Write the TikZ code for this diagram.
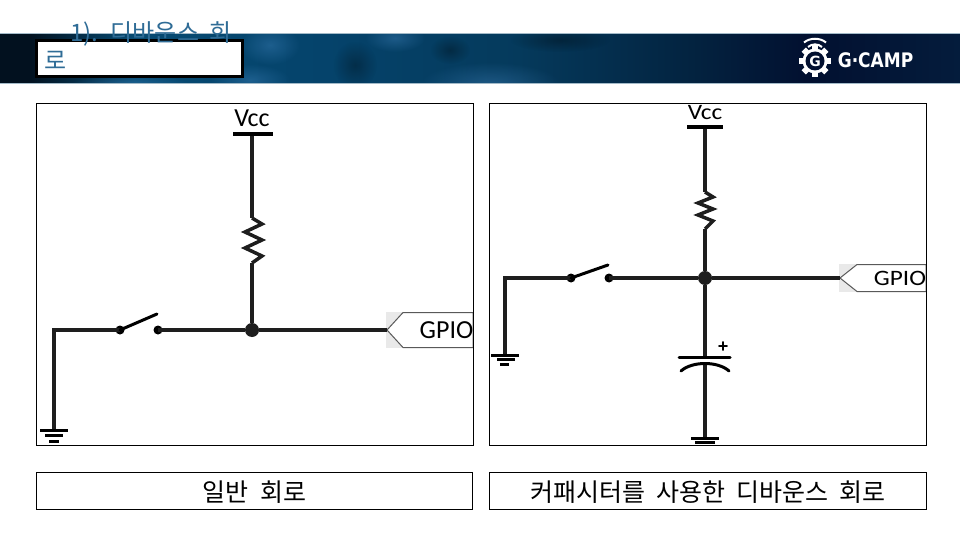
\documentclass[tikz,border=0pt]{standalone}
\usepackage{fontspec}
\newfontfamily\kofont[WordSpace=2.0]{Noto Sans CJK KR}
\newfontfamily\partfont{Carlito}
\newfontfamily\logofont{DejaVu Sans}
\setmainfont{Liberation Sans}
\usetikzlibrary{calc,fadings}
\tikzfading[name=glowfade,inner color=transparent!0,outer color=transparent!100]
\definecolor{wirecol}{HTML}{1E1E1E}
\definecolor{titlecol}{HTML}{2F6C96}
\definecolor{tagcol}{HTML}{E9E9E9}
\definecolor{edgecol}{HTML}{A3BAC8}
\definecolor{band0}{HTML}{02111F}
\definecolor{band1}{HTML}{042C46}
\definecolor{band2}{HTML}{064A72}
\definecolor{band3}{HTML}{05436B}
\definecolor{band4}{HTML}{053A5C}
\definecolor{band5}{HTML}{032340}
\definecolor{band6}{HTML}{021030}
\definecolor{band7}{HTML}{041C3C}
% stops: 25bp is the left edge of the band, 75bp the right edge
\pgfdeclarehorizontalshading{bandshade}{50bp}{
  color(0bp)=(band0); color(26.5bp)=(band0); color(29bp)=(band1); color(32bp)=(band2);
  color(42bp)=(band3); color(52bp)=(band4); color(61bp)=(band5); color(67bp)=(band6);
  color(75bp)=(band7); color(100bp)=(band7)}
\tikzset{
  wire/.style={draw=wirecol,line width=3.5pt},
  symbar/.style={draw=black,line width=3pt},
  jointdot/.style={circle,fill=wirecol,inner sep=0pt,minimum size=14pt},
  contact/.style={circle,fill=black,inner sep=0pt,minimum size=9pt},
  frame/.style={draw=black,line width=1.2pt},
  tagbg/.style={fill=tagcol},
  tagshape/.style={draw=black!65,fill=white,line width=1pt},
  caption/.style={inner sep=0pt,font=\kofont\fontsize{25}{28}\selectfont},
  titletext/.style={inner sep=0pt,anchor=west,text=titlecol,font=\kofont\fontsize{24}{26}\selectfont},
  parttext/.style={inner sep=0pt,font=\partfont\fontsize{26}{30}\selectfont},
  smallpart/.style={inner sep=0pt,xscale=1.15,font=\partfont\fontsize{22}{24}\selectfont},
  bandglow/.style={fill=#1,path fading=glowfade},
}
\begin{document}
\begin{tikzpicture}[x=1pt,y=-1pt]
\useasboundingbox (0,0) rectangle (960,540);
\fill[white] (0,0) rectangle (960,540);

% Header band
\begin{scope}
\clip (0,34) rectangle (960,84);
\shade[shading=bandshade] (0,34) rectangle (960,84);
\foreach \gx/\gy/\grx/\gry in {395/38/30/14,250/80/40/16,270/45/30/20,490/84/70/22,130/84/60/10} {
  \fill[bandglow=cyan!60!blue!70!white,opacity=.3] (\gx,\gy) ellipse ({\grx} and {\gry});
}
\foreach \gx/\gy/\grx/\gry in {355/65/22/24,450/50/20/14,560/40/50/12} {
  \fill[bandglow=black,opacity=.3] (\gx,\gy) ellipse ({\grx} and {\gry});
}
\end{scope}
\draw[edgecol,line width=1pt] (0,33.5) -- (960,33.5);
\draw[edgecol,line width=1pt] (0,84) -- (960,84);

% Title box
\draw[black,fill=white,line width=3pt] (36.5,40.5) rectangle (242.5,76.5);
\node[titletext] (title1) at (70,33.5) {1). 디바운스 회};
\node[titletext] (title2) at (44,60) {로};

% Logo
\coordinate (gearc) at (815,61);
\foreach \a in {0,45,...,315} {
  \fill[white,rotate around={\a:(gearc)}] ($(gearc)+(-3,-16)$) rectangle ($(gearc)+(3,-10)$);
}
\fill[white] (gearc) circle (12.5pt);
\fill[band6] (gearc) circle (9.5pt);
\node[inner sep=0pt,text=white,font=\logofont\fontsize{14}{16}\selectfont\bfseries] (loggear) at (gearc) {G};
\draw[white,line width=2pt] (804,42.5) .. controls (810,37.5) and (820,37.5) .. (826,42.5);
\draw[white,line width=2pt] (808,47) .. controls (812,43.5) and (818,43.5) .. (822,47);
\node[inner sep=0pt,text=white,font=\logofont\fontsize{20}{24}\selectfont\bfseries,xscale=.85] (logo) at (875.5,60) {G·CAMP};

% Left circuit
\coordinate (lvcc) at (252,134);
\coordinate (lrtop) at (252,218);
\coordinate (lrbot) at (252,263);
\coordinate (lgnd) at (54,430);
\coordinate (lcorner) at (54,330);
\node[jointdot] (ljoint) at (252,330) {};
\node[contact] (lsw1) at (120,330) {};
\node[contact] (lsw2) at (158,330) {};
\coordinate (lswend) at (157,314);
\coordinate (ltagtip) at (387,330);

\fill[tagbg] (386,312) rectangle (403,348);
\draw[tagshape] (ltagtip) -- (403,312.5) -- (473,312.5) -- (473,347.5) -- (403,347.5) -- cycle;
\node[parttext] (lgpio) at (446.5,330.5) {GPIO};
\node[parttext] (lvcctext) at (252,118) {Vcc};

\draw[wire] (lvcc) -- (lrtop);
\draw[wire,line join=miter] (lrtop) -- (262,224) -- (245,232) -- (262,240) -- (245,248) -- (262,256) -- (lrbot);
\draw[wire] (lrbot) -- (ljoint);
\draw[wire] (lsw2.center) -- (ljoint);
\draw[wire] (ljoint) -- (ltagtip);
\draw[wire] (lsw1.center) -- (lcorner) -- (lgnd);
\draw[symbar,line cap=round] (lsw1.center) -- (lswend);
\draw[symbar,line width=4pt] (233,134) -- (273,134);
\draw[symbar] (40,430) -- (68,430);
\draw[symbar] (45,435.5) -- (63,435.5);
\draw[symbar] (49,441) -- (59,441);

% Right circuit
\coordinate (rvcc) at (705,127);
\coordinate (rrtop) at (705,192);
\coordinate (rrbot) at (705,229);
\coordinate (rgnd) at (505,355);
\coordinate (rcorner) at (505,278);
\node[jointdot] (rjoint) at (705,278) {};
\node[contact] (rsw1) at (571,278) {};
\node[contact] (rsw2) at (609,278) {};
\coordinate (rswend) at (608,265);
\coordinate (rtagtip) at (840,278);
\coordinate (rcaptop) at (705,357);
\coordinate (rcapbot) at (705,363);
\coordinate (rcapgnd) at (705,438);

\fill[tagbg] (839,264) rectangle (857,292);
\draw[tagshape] (rtagtip) -- (857,264.5) -- (926,264.5) -- (926,291.5) -- (857,291.5) -- cycle;
\node[smallpart] (rgpio) at (900,278) {GPIO};
\node[smallpart] (rvcctext) at (705,112.5) {Vcc};

\draw[wire] (rvcc) -- (rrtop);
\draw[wire,line join=miter] (rrtop) -- (713,197) -- (698,203) -- (713,209) -- (698,215) -- (713,221) -- (rrbot);
\draw[wire] (rrbot) -- (rjoint);
\draw[wire] (rsw2.center) -- (rjoint);
\draw[wire] (rjoint) -- (rtagtip);
\draw[wire] (rsw1.center) -- (rcorner) -- (rgnd);
\draw[wire] (rjoint) -- (rcaptop);
\draw[wire] (rcapbot) -- (rcapgnd);
\draw[symbar,line cap=round] (rsw1.center) -- (rswend);
\draw[symbar,line width=4pt] (687,127) -- (723,127);
\draw[symbar] (491,355) -- (519,355);
\draw[symbar] (497,359.5) -- (515,359.5);
\draw[symbar] (500,364) -- (509,364);
\draw[symbar,line cap=round] (679,357) -- (730,357);
\draw[symbar,line cap=round] (681,371) .. controls (692,361) and (718,361) .. (729,371);
\node[inner sep=0pt,font=\fontsize{18}{20}\selectfont\bfseries] (rplus) at (723,347) {+};
\draw[symbar] (691,438) -- (719,438);
\draw[symbar] (695,442.5) -- (715,442.5);

% Frames
\draw[frame] (36.5,103.5) rectangle (473.5,445.5);
\draw[frame] (489.5,103.5) rectangle (926.5,445.5);
\node[frame,minimum width=436pt,minimum height=37pt,inner sep=0pt] (lcapbox) at (254.5,491) {};
\node[frame,minimum width=437pt,minimum height=37pt,inner sep=0pt] (rcapbox) at (708,491) {};
\node[caption] (lcaption) at ($(lcapbox)+(0,1)$) {일반 회로};
\node[caption] (rcaption) at ($(rcapbox)+(0,1)$) {커패시터를 사용한 디바운스 회로};
\end{tikzpicture}
\end{document}
